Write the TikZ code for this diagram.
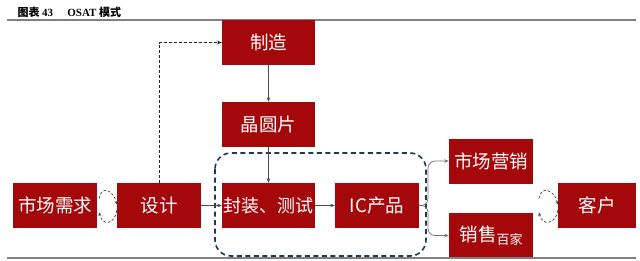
\documentclass[tikz,border=0pt]{standalone}
\usepackage{fontspec}
\setmainfont{Noto Sans CJK SC}
\newfontfamily\titleserif{Liberation Serif}
\usetikzlibrary{arrows.meta}
\definecolor{boxred}{RGB}{165,8,10}
\definecolor{groupblue}{RGB}{31,56,90}
\begin{document}
\begin{tikzpicture}[
  x=1pt,y=-1pt,
  stage/.style={draw=none, fill=boxred, text=white, font=\fontsize{18.5}{20}\selectfont, align=center, minimum width=84, minimum height=45, inner sep=0pt},
  wide/.style={stage, minimum width=93},
  flow/.style={draw=black!70, line width=0.6pt, -{Stealth[length=4.5pt,width=3.5pt]}},
  branch/.style={draw=black!55, line width=0.7pt, rounded corners=7pt, -{Stealth[length=4.5pt,width=3.5pt]}},
  loopup/.style={draw=black!85, line width=1pt, dash pattern=on 3pt off 2pt, -{Stealth[length=5pt,width=4pt]}},
  swap/.style={draw=black!75, line width=0.7pt, dash pattern=on 2.5pt off 2pt, -{Stealth[length=3.5pt,width=3pt]}},
  group/.style={draw=groupblue, line width=1.6pt, dash pattern=on 5pt off 3.5pt, rounded corners=16pt},
  rule/.style={draw=black!50}
]
\useasboundingbox (0,0) rectangle (640,260);

\node[anchor=west, font=\fontsize{11}{12}\selectfont\bfseries] (title) at (14,12)
  {图表 {\titleserif 43}\hspace{1.3em}{\titleserif OSAT} 模式};
\draw[rule, line width=1.2pt] (7,20) -- (636,20);

\draw[group] (215,153) rectangle (426,256);

\node[wide]  (make)   at (268.5,42.5)  {制造};
\node[wide]  (wafer)  at (268.5,124.5) {晶圆片};
\node[stage] (demand) at (55,205.5)    {市场需求};
\node[stage] (design) at (159,205.5)   {设计};
\node[wide, font=\fontsize{18}{20}\selectfont] (pack) at (268.5,205.5) {封装、测试};
\node[stage] (ic)     at (377,205.5)   {IC产品};
\node[stage] (mkt)    at (491,161)     {市场营销};
\node[stage] (sale)   at (491,235.5)   {销售\raisebox{-3pt}{\fontsize{13}{14}\selectfont 百家}};
\node[stage, minimum width=78] (client) at (597,205.5) {客户};

\coordinate (fork) at (428,205.5);
\coordinate (outlet) at (537,205.5);

\draw[loopup] (design.north) |- (make.west);
\draw[flow] (make) -- (wafer);
\draw[flow] (wafer) -- (pack);
\draw[flow] (design) -- (pack);
\draw[flow] (pack) -- (ic);
\draw[branch] (ic.east) -- (fork) |- (mkt.west);
\draw[branch] (ic.east) -- (fork) |- (sale.west);

\draw[swap] ([xshift=2,yshift=7]demand.east) .. controls +(2,-14) and +(-3,-14) .. ([yshift=1]design.west);
\draw[swap] ([yshift=-5]design.west) .. controls +(-2,14) and +(3,14) .. ([xshift=2,yshift=-7]demand.east);

\draw[swap] ([xshift=2,yshift=7]outlet) .. controls +(2,-14) and +(-3,-14) .. ([yshift=1]client.west);
\draw[swap] ([yshift=-5]client.west) .. controls +(-2,14) and +(3,14) .. ([xshift=2,yshift=-7]outlet);

\draw[rule, line width=2.5pt] (7,258) -- (636,258);
\end{tikzpicture}
\end{document}
